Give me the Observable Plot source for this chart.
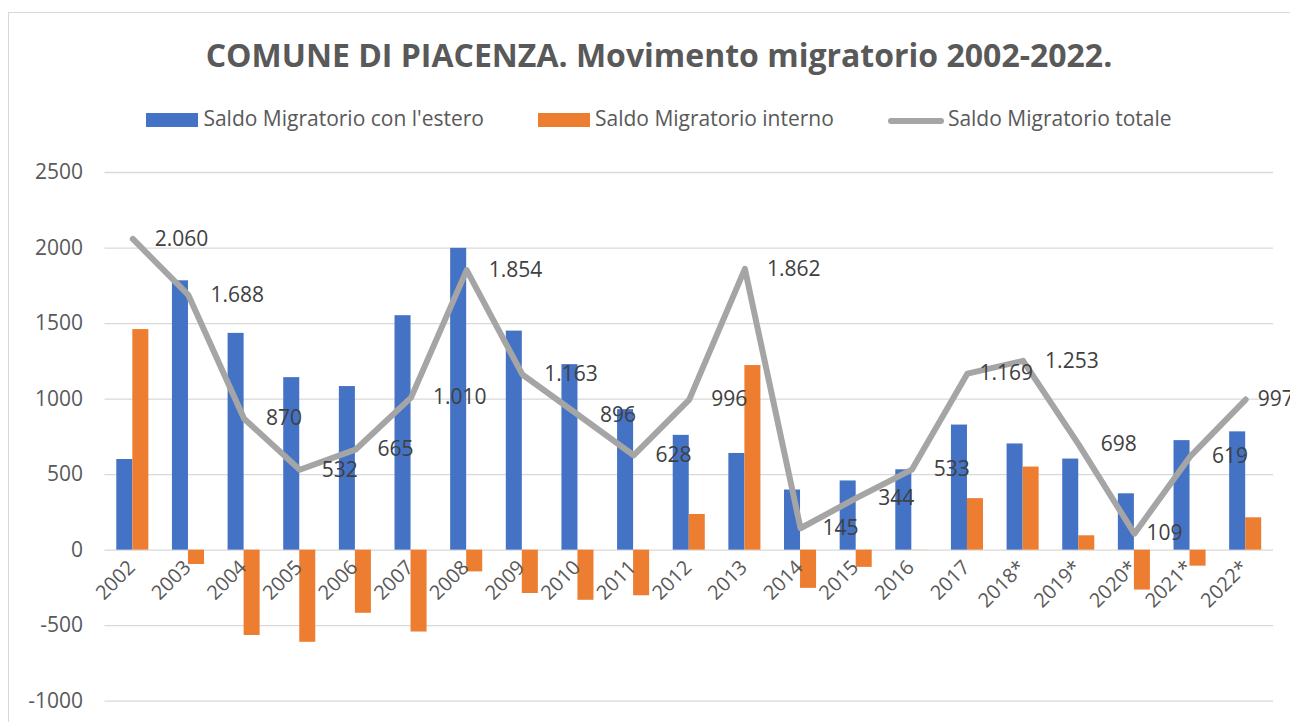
<!DOCTYPE html>
<html>
<head>
<meta charset="utf-8">
<script src="https://cdn.jsdelivr.net/npm/d3@7"></script>
<script src="https://cdn.jsdelivr.net/npm/@observablehq/plot@0.6"></script>
<style>
  html, body { margin: 0; padding: 0; background: #fff; overflow: hidden; width: 1290px; height: 722px; }
  #header { position: relative; height: 145px; width: 1290px; }
  #title { position: absolute; top: 39px; left: 0; width: 1318px; text-align: center;
           font: bold 32px/32px "Open Sans", sans-serif; color: #595959; white-space: nowrap; }
  #legend { position: absolute; top: 108px; left: 0; width: 1318px; display: flex; justify-content: center;
            align-items: center; font: 21px/21px "Open Sans", sans-serif; color: #595959; white-space: nowrap; }
  .item { display: flex; align-items: center; margin: 0 27px; }
  .sw { width: 52px; height: 14px; margin-right: 5px; position: relative; top: 1.5px; }
  .ln { width: 56px; height: 6px; border-radius: 3px; margin-right: 4px; position: relative; top: 2px; }
  #frame { position: absolute; left: 8px; top: 12px; width: 1400px; height: 800px;
           border-left: 1.5px solid #d9d9d9; border-top: 1.5px solid #d9d9d9; pointer-events: none; }
</style>
</head>
<body>
<div id="header">
  <div id="title">COMUNE DI PIACENZA. Movimento migratorio 2002-2022.</div>
  <div id="legend"></div>
</div>
<div id="chart"></div>
<div id="frame"></div>
<script>
// ---- data ----
const years = ["2002","2003","2004","2005","2006","2007","2008","2009","2010","2011","2012",
               "2013","2014","2015","2016","2017","2018*","2019*","2020*","2021*","2022*"];
const saldoEstero  = [600, 1783, 1435, 1142, 1083, 1552, 1998, 1450, 1228, 930, 760,
                      640, 398, 458, 532, 828, 703, 603, 373, 725, 783];
const saldoInterno = [1460, -95, -565, -610, -418, -542, -144, -287, -332, -302, 236,
                      1222, -253, -114, 1, 341, 550, 95, -264, -106, 214];
const saldoTotale  = [2060, 1688, 870, 532, 665, 1010, 1854, 1163, 896, 628, 996,
                      1862, 145, 344, 533, 1169, 1253, 698, 109, 619, 997];
const yTicks = [-1000, -500, 0, 500, 1000, 1500, 2000, 2500];
const seriesNames = ["Saldo Migratorio con l'estero", "Saldo Migratorio interno", "Saldo Migratorio totale"];

// ---- styles ----
const colors = ["#4472c4", "#ed7d31", "#a5a5a5"];
const W = 1290, H = 577;
const mL = 104.5, mR = 17, mT = 27, mB = 21.3;
const padIn = 0.424;
const step = (W - mL - mR) / years.length;
const halfBand = step * (1 - padIn) / 2;
// labels that the reference places closer to their point
const closeLabels = new Set(["2017", "2020*", "2022*"]);

const rows = years.map((y, i) => ({year: y, estero: saldoEstero[i], interno: saldoInterno[i], totale: saldoTotale[i]}));
const fmt = d3.formatLocale({decimal: ",", thousands: ".", grouping: [3], currency: ["€", ""]}).format(",d");

// legend
const legend = document.getElementById("legend");
seriesNames.forEach((name, i) => {
  const it = document.createElement("div");
  it.className = "item";
  const sw = document.createElement("div");
  sw.className = i < 2 ? "sw" : "ln";
  sw.style.background = colors[i];
  const tx = document.createElement("span");
  tx.textContent = name;
  it.appendChild(sw); it.appendChild(tx);
  legend.appendChild(it);
});

const labelOpts = {x: "year", y: "totale", text: d => fmt(d.totale), textAnchor: "start", fill: "#404040", fontSize: 21};

const chart = Plot.plot({
  width: W, height: H,
  marginLeft: mL, marginRight: mR, marginTop: mT, marginBottom: mB,
  style: {fontFamily: "Open Sans, sans-serif", fontSize: "21px", color: "#595959", background: "transparent"},
  x: {domain: years, paddingInner: padIn, paddingOuter: padIn / 2, round: false, axis: null},
  y: {domain: [-1000, 2500], ticks: yTicks, tickSize: 0, tickPadding: 22, tickFormat: d => String(d), label: null},
  marks: [
    Plot.ruleY(yTicks, {stroke: "#d9d9d9", strokeWidth: 1.3}),
    Plot.barY(rows, {x: "year", y: "estero", fill: colors[0], insetRight: halfBand}),
    Plot.barY(rows, {x: "year", y: "interno", fill: colors[1], insetLeft: halfBand}),
    Plot.line(rows, {x: "year", y: "totale", stroke: colors[2], strokeWidth: 6, strokeLinejoin: "round", strokeLinecap: "round"}),
    Plot.text(rows.filter(d => !closeLabels.has(d.year)), {...labelOpts, dx: 22}),
    Plot.text(rows.filter(d => closeLabels.has(d.year)), {...labelOpts, dx: 12}),
    Plot.text(years, {x: d => d, y: () => 0, text: d => d, rotate: -45, textAnchor: "end", dx: -1, dy: 14, fill: "#595959", fontSize: 20})
  ]
});
document.getElementById("chart").appendChild(chart);
</script>
</body>
</html>
